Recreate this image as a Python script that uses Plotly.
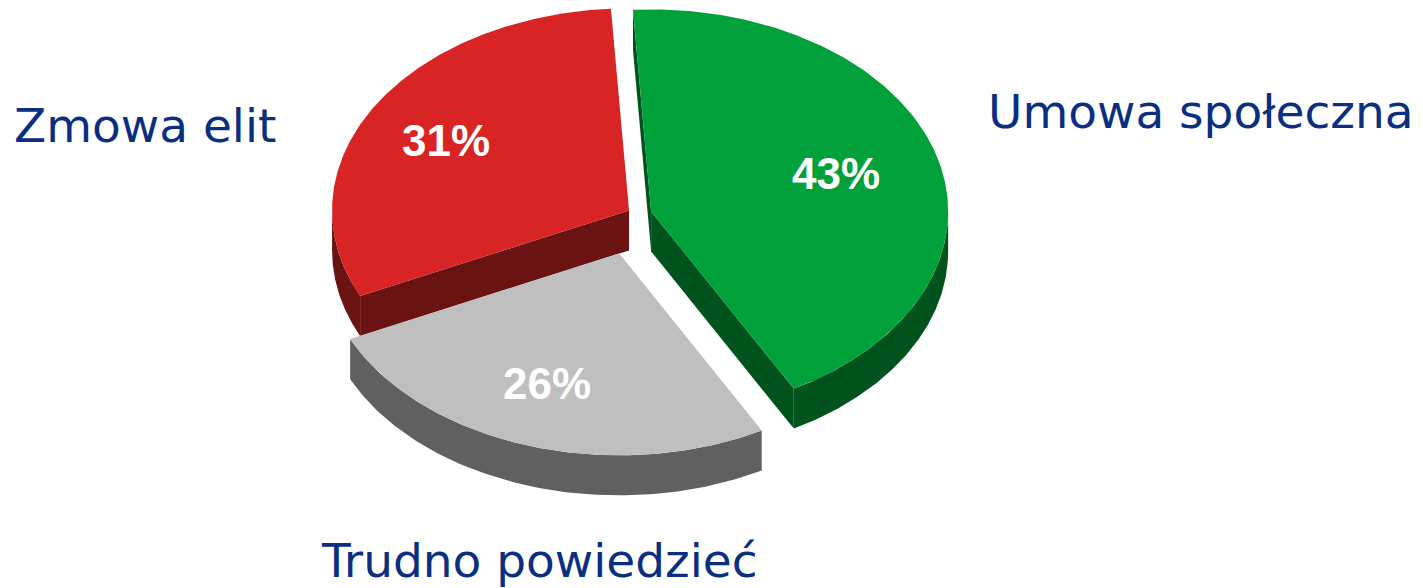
import numpy as np
import plotly.graph_objects as go

# ---- data ----
categories = ["Umowa społeczna", "Trudno powiedzieć", "Zmowa elit"]
values = [43, 26, 31]

# ---- style ----
top_colors = ["#00A03A", "#BFBFBF", "#D92425"]
side_colors = ["#00531C", "#606060", "#6B1213"]
explode = [0.046, 0.205, 0.035]
draw_order = [2, 0, 1]
label_pos = {0: (986, 111, "left"), 1: (319, 560, "left"), 2: (12, 125, "left")}

W, H = 1423, 588
CX, CY = 638, 214
RX, RY = 297, 202
DEPTH = 40
START = -3.5
LABEL_F = 0.68
LABEL_DX = -9


def pt(cx, cy, th):
    t = np.radians(th)
    return cx + RX * np.sin(t), cy - RY * np.cos(t)


total = float(sum(values))
bounds = []
acc = START
for v in values:
    a = acc
    b = acc + 360.0 * v / total
    bounds.append((a, b))
    acc = b

fig = go.Figure()


def poly(xs, ys, color):
    xs = list(xs) + [xs[0]]
    ys = list(ys) + [ys[0]]
    fig.add_trace(go.Scatter(x=xs, y=ys, mode="lines", fill="toself",
                             fillcolor=color, line=dict(width=0, color=color),
                             hoverinfo="skip", showlegend=False))


annotations = []
for i in draw_order:
    a, b = bounds[i]
    mid = (a + b) / 2
    mx, my = pt(0, 0, mid)
    ax, ay = CX + explode[i] * mx, CY + explode[i] * my

    # outer rim (front half only)
    lo, hi = max(a, 90), min(b, 270)
    if hi > lo:
        th = np.linspace(lo, hi, 120)
        tx, ty = pt(ax, ay, th)
        xs = np.concatenate([tx, tx[::-1]])
        ys = np.concatenate([ty, (ty + DEPTH)[::-1]])
        poly(xs, ys, side_colors[i])

    # radial faces
    for ang, normal in ((a, a - 90), (b, b + 90)):
        if np.cos(np.radians(normal)) < 0:
            ex, ey = pt(ax, ay, ang)
            poly([ax, ex, ex, ax], [ay, ey, ey + DEPTH, ay + DEPTH], side_colors[i])

    # top face
    th = np.linspace(a, b, 200)
    tx, ty = pt(ax, ay, th)
    poly(np.concatenate([[ax], tx]), np.concatenate([[ay], ty]), top_colors[i])

    lx = ax + LABEL_F * RX * np.sin(np.radians(mid)) + LABEL_DX
    ly = ay - LABEL_F * RY * np.cos(np.radians(mid))
    annotations.append(dict(x=lx, y=ly, xref="x", yref="y", text=f"<b>{values[i]}%</b>",
                            showarrow=False, xanchor="center", yanchor="middle",
                            font=dict(family="Liberation Sans, Arial", size=44, color="white")))

for i, name in enumerate(categories):
    x, y, anc = label_pos[i]
    annotations.append(dict(x=x, y=y, xref="x", yref="y", text=name, showarrow=False,
                            xanchor=anc, yanchor="middle",
                            font=dict(family="DejaVu Sans", size=47, color="#0A2E80")))

fig.update_layout(
    width=W, height=H,
    margin=dict(l=0, r=0, t=0, b=0),
    paper_bgcolor="white", plot_bgcolor="white",
    xaxis=dict(range=[0, W], visible=False, fixedrange=True),
    yaxis=dict(range=[H, 0], visible=False, fixedrange=True),
    annotations=annotations,
    showlegend=False,
)

fig.write_html("out.html")
